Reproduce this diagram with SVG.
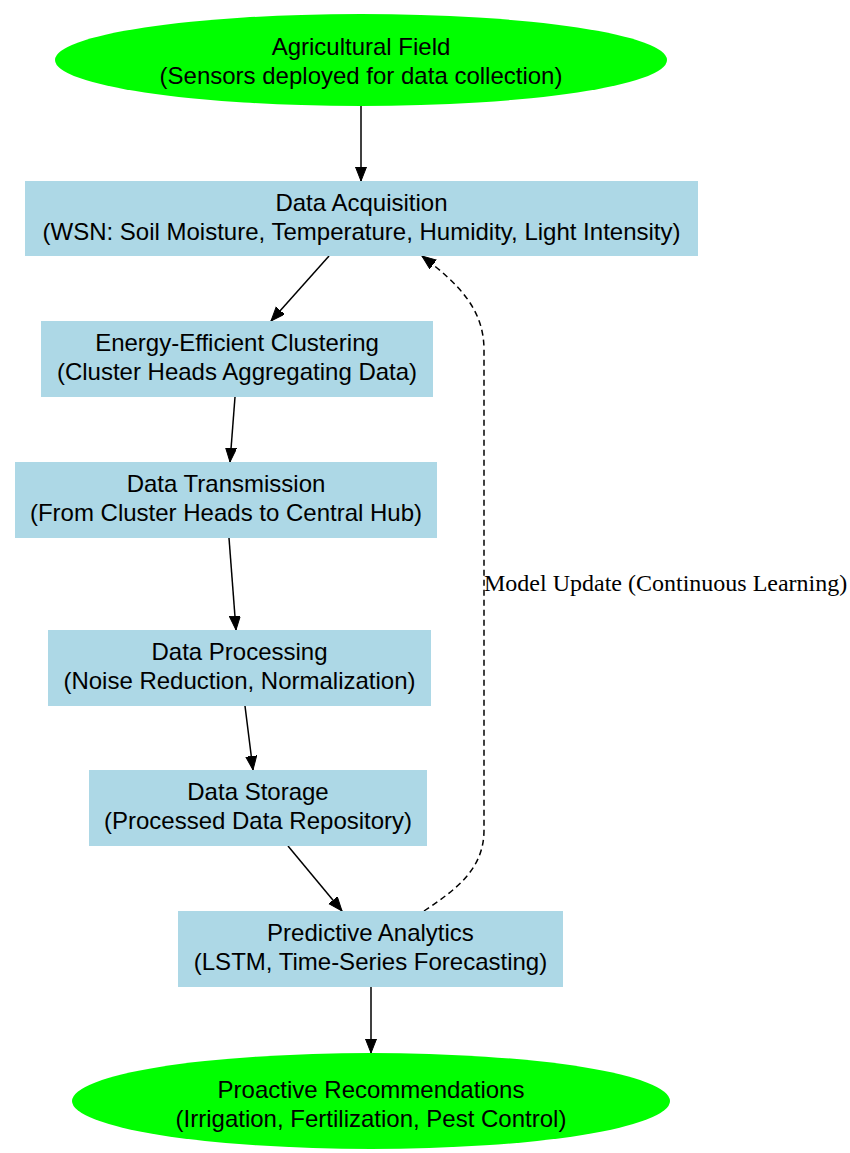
<svg xmlns="http://www.w3.org/2000/svg" width="850" height="1153" viewBox="0 0 850 1153">
<defs>
<style>
.box{fill:#ADD8E6;stroke:none}
.ell{fill:#00FF00;stroke:none}
.t{font-family:"Liberation Sans",Arial,sans-serif;font-size:24px;fill:#000;text-anchor:middle}
.e{stroke:#000;stroke-width:1.5;fill:none}
.d{stroke:#000;stroke-width:1.5;fill:none;stroke-dasharray:6,4}
.lbl{font-family:"Liberation Serif","Times New Roman",serif;font-size:24px;fill:#000}
</style>
<marker id="ah" markerUnits="userSpaceOnUse" markerWidth="16" markerHeight="12" refX="14" refY="5.5" orient="auto">
<path d="M0,0 L14,5.5 L0,11 z" fill="#000" stroke="#000" stroke-width="1"/>
</marker>
</defs>
<rect width="850" height="1153" fill="#fff"/>
<g id="connectors">
<line class="e" x1="361" y1="106" x2="361" y2="181" marker-end="url(#ah)"/>
<line class="e" x1="329" y1="256" x2="271" y2="321" marker-end="url(#ah)"/>
<line class="e" x1="235" y1="397" x2="230" y2="462" marker-end="url(#ah)"/>
<line class="e" x1="229" y1="538" x2="236" y2="630" marker-end="url(#ah)"/>
<line class="e" x1="245" y1="706" x2="253" y2="770" marker-end="url(#ah)"/>
<line class="e" x1="288" y1="846" x2="342" y2="911" marker-end="url(#ah)"/>
<line class="e" x1="371" y1="987" x2="371" y2="1053" marker-end="url(#ah)"/>
<path class="d" d="M424,911 C455,890 484,870 484,830 L484,350 C484,310 460,285 422,256" marker-end="url(#ah)"/>
<text class="lbl" x="484" y="591">Model Update (Continuous Learning)</text>
</g>
<g id="n_field">
<ellipse class="ell" cx="361" cy="60" rx="306" ry="46"/>
<text class="t" x="361" y="55">Agricultural Field</text>
<text class="t" x="361" y="84">(Sensors deployed for data collection)</text>
</g>
<g id="n_acq">
<rect class="box" x="25" y="181" width="673" height="75"/>
<text class="t" x="361.5" y="211">Data Acquisition</text>
<text class="t" x="361.5" y="240">(WSN: Soil Moisture, Temperature, Humidity, Light Intensity)</text>
</g>
<g id="n_cluster">
<rect class="box" x="41" y="321" width="392" height="76"/>
<text class="t" x="237" y="351">Energy-Efficient Clustering</text>
<text class="t" x="237" y="380">(Cluster Heads Aggregating Data)</text>
</g>
<g id="n_trans">
<rect class="box" x="15" y="462" width="422" height="76"/>
<text class="t" x="226" y="492">Data Transmission</text>
<text class="t" x="226" y="521">(From Cluster Heads to Central Hub)</text>
</g>
<g id="n_proc">
<rect class="box" x="48" y="630" width="383" height="76"/>
<text class="t" x="239.5" y="660">Data Processing</text>
<text class="t" x="239.5" y="689">(Noise Reduction, Normalization)</text>
</g>
<g id="n_store">
<rect class="box" x="89" y="770" width="338" height="76"/>
<text class="t" x="258" y="800">Data Storage</text>
<text class="t" x="258" y="829">(Processed Data Repository)</text>
</g>
<g id="n_pred">
<rect class="box" x="178" y="911" width="385" height="76"/>
<text class="t" x="370.5" y="941">Predictive Analytics</text>
<text class="t" x="370.5" y="970">(LSTM, Time-Series Forecasting)</text>
</g>
<g id="n_rec">
<ellipse class="ell" cx="371" cy="1101" rx="299" ry="48"/>
<text class="t" x="371" y="1098">Proactive Recommendations</text>
<text class="t" x="371" y="1127">(Irrigation, Fertilization, Pest Control)</text>
</g>
</svg>
